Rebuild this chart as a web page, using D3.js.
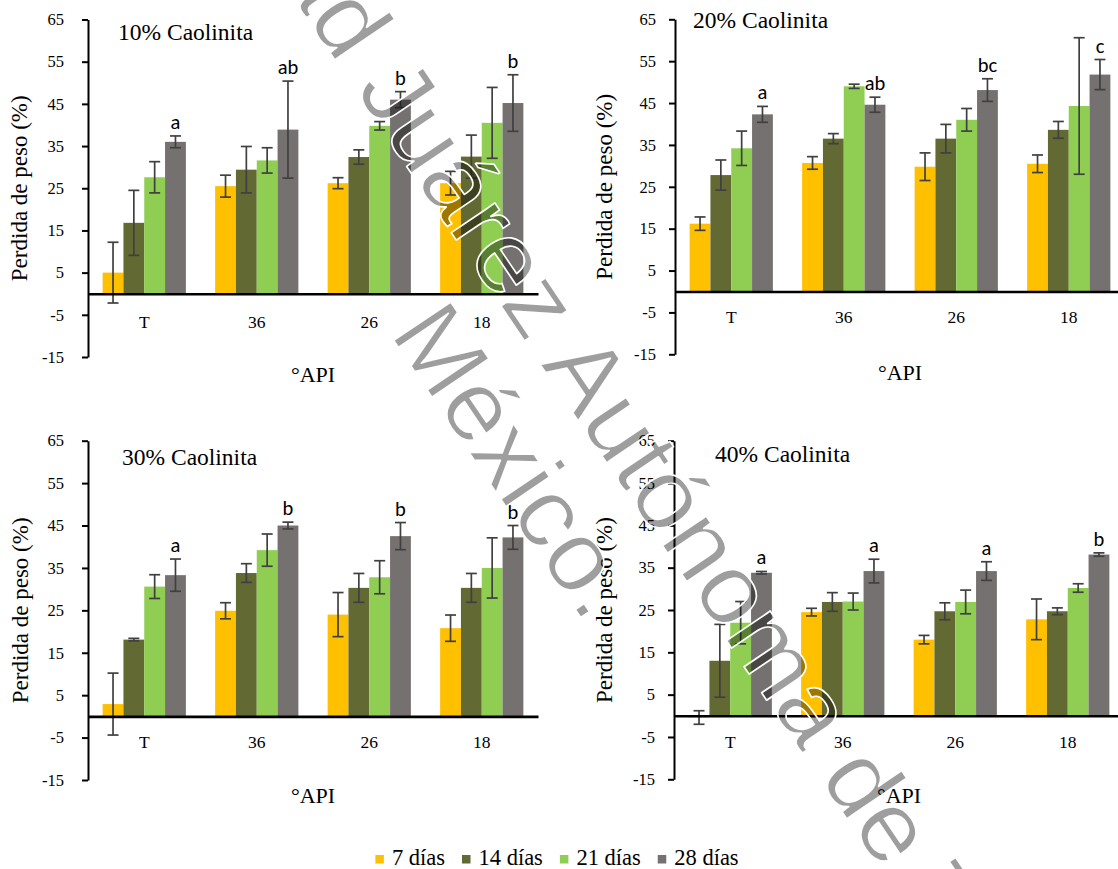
<!DOCTYPE html>
<html>
<head>
<meta charset="utf-8">
<script src="https://cdn.jsdelivr.net/npm/d3@7"></script>
<style>
  html, body { margin: 0; padding: 0; background: #ffffff; }
  svg { display: block; }
</style>
</head>
<body>
<svg id="chart" width="1118" height="869"></svg>
<script>
// ---- data -------------------------------------------------------------
const categories = ["T", "36", "26", "18"];
const seriesNames = ["7 días", "14 días", "21 días", "28 días"];
const yTicks = [-15, -5, 5, 15, 25, 35, 45, 55, 65];

// rows follow categories, columns follow seriesNames
const mean10 = [[5.0, 16.8, 27.6, 36.0], [25.5, 29.4, 31.6, 38.9], [26.2, 32.4, 39.8, 46.0], [26.2, 32.5, 40.5, 45.2]];
const err10  = [[7.2, 7.7, 3.7, 1.4], [2.6, 5.5, 3.0, 11.5], [1.3, 1.7, 1.0, 1.9], [2.8, 5.1, 8.4, 6.7]];
const letters10 = ["a", "ab", "b", "b"];

const mean20 = [[16.2, 27.8, 34.2, 42.3], [30.7, 36.5, 49.0, 44.6], [29.8, 36.5, 41.0, 48.1], [30.5, 38.6, 44.3, 51.8]];
const err20  = [[1.6, 3.6, 4.1, 1.9], [1.5, 1.2, 0.5, 1.8], [3.3, 3.4, 2.7, 2.7], [2.1, 2.0, 16.3, 3.6]];
const letters20 = ["a", "ab", "bc", "c"];

const mean30 = [[2.9, 18.1, 30.6, 33.3], [24.9, 33.8, 39.2, 45.0], [24.0, 30.3, 32.8, 42.5], [20.8, 30.3, 35.0, 42.2]];
const err30  = [[7.3, 0.3, 2.8, 3.8], [1.9, 2.2, 3.8, 0.8], [5.2, 3.4, 3.9, 3.2], [3.1, 3.4, 7.1, 2.8]];
const letters30 = ["a", "b", "b", "b"];

const mean40 = [[-0.4, 13.0, 22.0, 33.8], [24.5, 26.9, 27.0, 34.2], [18.0, 24.7, 26.9, 34.2], [22.8, 24.7, 30.2, 38.1]];
const err40  = [[1.6, 8.6, 5.0, 0.3], [0.9, 2.2, 2.0, 2.8], [1.0, 2.0, 2.8, 2.2], [4.8, 0.8, 1.0, 0.4]];
const letters40 = ["a", "a", "a", "b"];

const titles = ["10% Caolinita", "20% Caolinita", "30% Caolinita", "40% Caolinita"];
const yTitle = "Perdida de peso (%)";
const xTitle = "°API";
const watermarkLines = ["Universidad Juárez Autónoma de Tabasco.", "México."];

// ---- font selection ---------------------------------------------------------
// pick the first installed family from each list (canvas width probe)
const probe = document.createElement("canvas").getContext("2d");
function installed(name) {
  const sample = "Caolinita Perdida 0123456789 mmmWWWiiil";
  return ["monospace", "sans-serif"].some(base => {
    probe.font = `40px ${base}`;
    const w0 = probe.measureText(sample).width;
    probe.font = `40px "${name}", ${base}`;
    return Math.abs(probe.measureText(sample).width - w0) > 0.5;
  });
}
function pickFont(list, generic) {
  const found = list.find(installed);
  return found ? `"${found}", ${generic}` : generic;
}
const serif = pickFont(["Liberation Serif", "Tinos", "Times New Roman", "Times", "Nimbus Roman", "Nimbus Roman No9 L",
                        "FreeSerif", "DejaVu Serif", "Noto Serif", "Source Serif Pro", "Georgia"], "serif");
const sans = pickFont(["Carlito", "Calibri", "Lato", "Open Sans", "Noto Sans"], "sans-serif");
const wmFont = pickFont(["Liberation Sans", "Arimo", "Arial", "Helvetica", "Roboto", "Noto Sans"], "sans-serif");

// ---- styling ------------------------------------------------------------
const colors = ["#FFC000", "#636932", "#8FCE52", "#767171"];
const tickFmt = d => (d < 0 ? "-" + Math.abs(d) : String(d));

const svg = d3.select("#chart");

const panels = [
  { title: titles[0], mean: mean10, err: err10, letters: letters10,
    left: 88, top: 19.5, bottom: 357, tickPad: 18, yTitleX: 27, titleX: 118, titleY: 40, catY: 328, apiY: 382 },
  { title: titles[1], mean: mean20, err: err20, letters: letters20,
    left: 675, top: 19.3, bottom: 354.3, tickPad: 13, yTitleX: 612, titleX: 693, titleY: 28, catY: 323, apiY: 380 },
  { title: titles[2], mean: mean30, err: err30, letters: letters30,
    left: 88, top: 440.7, bottom: 780, tickPad: 18, yTitleX: 28, titleX: 122, titleY: 465, catY: 748, apiY: 803 },
  { title: titles[3], mean: mean40, err: err40, letters: letters40,
    left: 674, top: 440.7, bottom: 779.3, tickPad: 13, yTitleX: 612, titleX: 715, titleY: 462, catY: 748, apiY: 803 }
];

const plotWidth = 450;

panels.forEach(p => {
  const g = svg.append("g");

  const x = d3.scaleBand().domain(categories).range([p.left, p.left + plotWidth]);
  const groupW = x.bandwidth() * 0.74;
  const xs = d3.scaleBand().domain(seriesNames).range([0, groupW]);
  const y = d3.scaleLinear().domain([-15, 65]).range([p.bottom, p.top]);
  const groupX = c => x(c) + (x.bandwidth() - groupW) / 2;

  // bars
  categories.forEach((c, ci) => {
    seriesNames.forEach((s, si) => {
      const v = p.mean[ci][si];
      g.append("rect")
        .attr("x", groupX(c) + xs(s))
        .attr("y", Math.min(y(v), y(0)))
        .attr("width", xs.bandwidth())
        .attr("height", Math.abs(y(v) - y(0)))
        .attr("fill", colors[si]);
    });
  });

  // error bars
  categories.forEach((c, ci) => {
    seriesNames.forEach((s, si) => {
      const v = p.mean[ci][si], e = p.err[ci][si];
      const cx = groupX(c) + xs(s) + xs.bandwidth() / 2;
      const eb = g.append("g").attr("stroke", "#404040").attr("stroke-width", 1.7);
      eb.append("line").attr("x1", cx).attr("x2", cx).attr("y1", y(v + e)).attr("y2", y(v - e));
      eb.append("line").attr("x1", cx - 5.5).attr("x2", cx + 5.5).attr("y1", y(v + e)).attr("y2", y(v + e));
      eb.append("line").attr("x1", cx - 5.5).attr("x2", cx + 5.5).attr("y1", y(v - e)).attr("y2", y(v - e));
    });
  });

  // significance letters over the 28-day bar
  categories.forEach((c, ci) => {
    const s = seriesNames[3];
    const v = p.mean[ci][3], e = p.err[ci][3];
    g.append("text")
      .attr("x", groupX(c) + xs(s) + xs.bandwidth() / 2)
      .attr("y", y(v + e) - 7)
      .attr("text-anchor", "middle")
      .style("font-family", sans)
      .attr("font-size", 20.5)
      .attr("fill", "#000")
      .text(p.letters[ci]);
  });

  // y axis
  const yAxis = d3.axisLeft(y).tickValues(yTicks).tickFormat(tickFmt)
    .tickSize(6).tickSizeOuter(0).tickPadding(p.tickPad);
  const ya = g.append("g").attr("transform", `translate(${p.left},0)`).call(yAxis);
  ya.select(".domain").attr("stroke", "#000").attr("stroke-width", 2);
  ya.selectAll(".tick line").attr("stroke", "#000").attr("stroke-width", 2);
  ya.selectAll(".tick text").style("font-family", serif).attr("font-size", 16.5).attr("fill", "#000");

  // zero line with category labels
  const xAxis = d3.axisBottom(x).tickSize(0).tickSizeOuter(0).tickPadding(p.catY - y(0) - 12);
  const xa = g.append("g").attr("transform", `translate(0,${y(0)})`).call(xAxis);
  xa.select(".domain").attr("stroke", "#000").attr("stroke-width", 2.6);
  xa.selectAll(".tick text").style("font-family", serif).attr("font-size", 17.5).attr("fill", "#000");

  // panel title
  g.append("text")
    .style("font-family", serif)
    .attr("x", p.titleX).attr("y", p.titleY)
    .attr("font-size", 23.5).attr("fill", "#000")
    .text(p.title);

  // value axis title
  g.append("text")
    .style("font-family", serif)
    .attr("transform", `translate(${p.yTitleX},${(p.top + p.bottom) / 2}) rotate(-90)`)
    .attr("text-anchor", "middle")
    .attr("font-size", 23).attr("fill", "#000")
    .text(yTitle);

  // category axis title
  g.append("text")
    .style("font-family", serif)
    .attr("x", p.left + plotWidth / 2).attr("y", p.apiY)
    .attr("text-anchor", "middle")
    .attr("font-size", 22).attr("fill", "#000")
    .text(xTitle);
});

// ---- legend ---------------------------------------------------------------
const legend = svg.append("g");
let lx = 0;
seriesNames.forEach((s, i) => {
  legend.append("rect").attr("x", lx).attr("y", -10).attr("width", 8.5).attr("height", 8.5).attr("fill", colors[i]);
  const t = legend.append("text")
    .style("font-family", serif)
    .attr("x", lx + 16.5).attr("y", 0)
    .attr("font-size", 22.5).attr("fill", "#000")
    .text(s);
  lx += 16.5 + t.node().getComputedTextLength() + 17;
});
const legendW = lx - 17;
legend.attr("transform", `translate(${557 - legendW / 2},865)`);

// ---- diagonal watermark -------------------------------------------------
// drawn last: translucent fill with a thin white rim
const wm = svg.append("g").attr("transform", "rotate(56)")
  .style("font-family", wmFont)
  .attr("font-size", 100)
  .attr("fill", "rgba(0,0,0,0.38)")
  .attr("stroke", "#ffffff")
  .attr("stroke-width", 1.6)
  .attr("stroke-linejoin", "round");
wm.append("text").attr("x", -300).attr("y", -244)
  .attr("textLength", 1955).attr("lengthAdjust", "spacingAndGlyphs")
  .text(watermarkLines[0]);
wm.append("text").attr("x", 494).attr("y", -136)
  .attr("textLength", 352).attr("lengthAdjust", "spacingAndGlyphs")
  .text(watermarkLines[1]);
</script>
</body>
</html>
